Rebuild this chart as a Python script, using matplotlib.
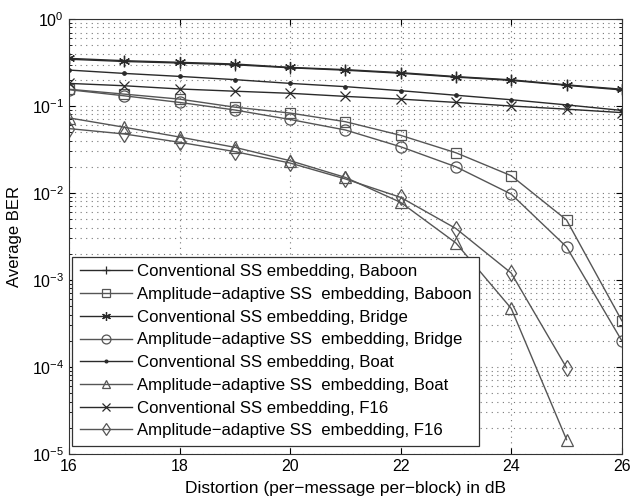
"""Average BER vs distortion: conventional vs amplitude-adaptive SS embedding."""
import matplotlib
matplotlib.use('Agg')
import matplotlib.pyplot as plt
from matplotlib.ticker import LogLocator, NullFormatter

plt.rcParams['font.family'] = ['Liberation Sans', 'DejaVu Sans']

distortion = [16, 17, 18, 19, 20, 21, 22, 23, 24, 25, 26]

conv_baboon = [0.345, 0.325, 0.312, 0.298, 0.275, 0.258, 0.238, 0.215, 0.197, 0.173, 0.153]
ada_baboon = [0.156, 0.137, 0.120, 0.097, 0.083, 0.066, 0.046, 0.029, 0.0158, 0.0049, 0.00034]
conv_bridge = [0.353, 0.332, 0.318, 0.304, 0.278, 0.262, 0.242, 0.218, 0.200, 0.175, 0.156]
ada_bridge = [0.154, 0.131, 0.110, 0.090, 0.070, 0.053, 0.034, 0.020, 0.0097, 0.0024, 0.00020]
conv_boat = [0.259, 0.237, 0.219, 0.201, 0.182, 0.167, 0.150, 0.133, 0.118, 0.103, 0.089]
ada_boat = [0.073, 0.057, 0.044, 0.0335, 0.0235, 0.0151, 0.0078, 0.00266, 0.00047, 0.0000146]
conv_f16 = [0.182, 0.171, 0.157, 0.148, 0.140, 0.129, 0.120, 0.110, 0.100, 0.092, 0.084]
ada_f16 = [0.055, 0.0477, 0.0383, 0.0299, 0.0221, 0.0145, 0.0089, 0.0039, 0.0012, 0.000098]

labels = [
    'Conventional SS embedding, Baboon',
    'Amplitude\u2212adaptive SS  embedding, Baboon',
    'Conventional SS embedding, Bridge',
    'Amplitude\u2212adaptive SS  embedding, Bridge',
    'Conventional SS embedding, Boat',
    'Amplitude\u2212adaptive SS  embedding, Boat',
    'Conventional SS embedding, F16',
    'Amplitude\u2212adaptive SS  embedding, F16',
]

fig = plt.figure(figsize=(6.3, 5.01), dpi=100)
ax = fig.add_axes([0.1095, 0.094, 0.8775, 0.868])

dark = '#2a2a2a'
gray = '#555555'
asterisk = (6, 2, 0)
series = [
    (conv_baboon, '+', dark, 8),
    (ada_baboon, 's', gray, 7),
    (conv_bridge, asterisk, dark, 8),
    (ada_bridge, 'o', gray, 8),
    (conv_boat, '.', dark, 5),
    (ada_boat, '^', gray, 8),
    (conv_f16, 'x', dark, 7),
    (ada_f16, 'd', gray, 8),
]
for (vals, mk, col, ms), lab in zip(series, labels):
    hollow = isinstance(mk, str) and mk in 'so^d'
    ax.semilogy(distortion[:len(vals)], vals, marker=mk, color=col, lw=1.0,
                ms=ms, mfc='none' if hollow else col, mec=col, mew=0.9,
                label=lab)

ax.set_xlim(16, 26)
ax.set_ylim(1e-5, 1)
ax.set_xticks([16, 18, 20, 22, 24, 26])
ax.yaxis.set_major_locator(LogLocator(base=10, numticks=10))
ax.yaxis.set_minor_locator(LogLocator(base=10, subs=range(2, 10), numticks=20))
ax.yaxis.set_minor_formatter(NullFormatter())
grid_ls = (0, (1, 4))
ax.grid(True, which='major', axis='both', ls=grid_ls, color='#777777', lw=0.8)
ax.grid(True, which='minor', axis='y', ls=grid_ls, color='#777777', lw=0.8)
ax.tick_params(which='both', direction='in', top=True, right=True, labelsize=11.5)
ax.tick_params(which='minor', length=2.5)
ax.tick_params(which='major', length=4)
for s in ax.spines.values():
    s.set_color('#333333')

ax.set_xlabel('Distortion (per\u2212message per\u2212block) in dB', fontsize=12.5, labelpad=5)
ax.set_ylabel('Average BER', fontsize=12, labelpad=7)

leg = ax.legend(loc='lower left', bbox_to_anchor=(0.0054, 0.0184), borderaxespad=0,
                fontsize=12.1, handlelength=3.1, handletextpad=0.3, markerscale=0.8,
                labelspacing=0.46, frameon=True, fancybox=False, borderpad=0.45)
leg.get_frame().set_edgecolor('#333333')
leg.get_frame().set_linewidth(0.9)
leg.get_frame().set_alpha(1)

fig.savefig('out.png', dpi=100)
